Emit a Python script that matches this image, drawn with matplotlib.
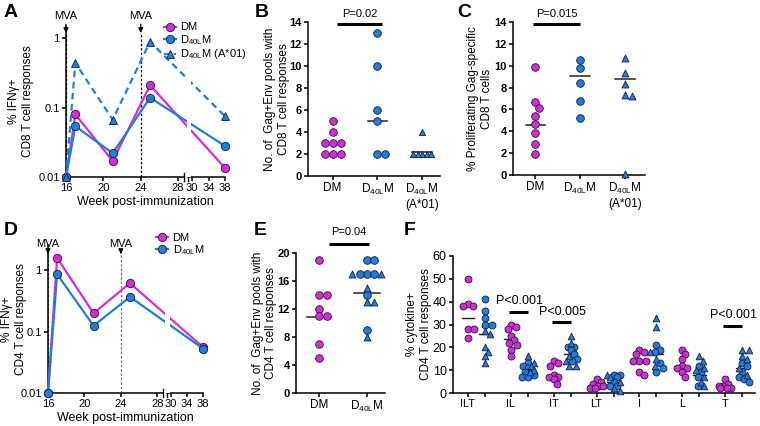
import numpy as np
import matplotlib.pyplot as plt
from matplotlib.lines import Line2D

plt.rcParams['font.family'] = ['Liberation Sans', 'DejaVu Sans']
plt.rcParams['font.size'] = 8
plt.rcParams['mathtext.default'] = 'regular'

MAG = '#d92bd4'
BLU = '#1f7fd6'
EDGE = '#1a1a40'
D40 = 'D$_{40L}$M'

# --- A / D : time courses (log scale) ---
weeks = [16, 17, 21, 25, 38]
cd8_dm = [0.01, 0.08, 0.017, 0.21, 0.0135]
cd8_d40 = [0.01, 0.054, 0.022, 0.139, 0.028]
cd8_a01 = [0.01, 0.44, 0.067, 0.89, 0.075]
cd4_dm = [0.01, 1.6, 0.2, 0.62, 0.056]
cd4_d40 = [0.01, 0.87, 0.125, 0.37, 0.053]
mva_weeks = [16, 24]
week_ticks = [16, 20, 24, 28, 30, 34, 38]

# --- B ---
b_dm = [5, 4, 3, 3, 3, 2, 2, 2]
b_d40 = [13, 10, 6, 5, 2, 2]
b_a01 = [4, 2, 2, 2, 2, 2]
b_med = [2.9, 5.0, 2.2]

# --- C ---
c_dm = [9.9, 6.7, 6.1, 5.4, 4.7, 3.8, 2.8, 1.9]
c_d40 = [10.5, 9.8, 8.4, 6.8, 5.2]
c_a01 = [10.7, 9.3, 8.3, 7.3, 7.2, 0.1]
c_med = [4.6, 9.1, 8.8]

# --- E ---
e_dm = [19, 14, 14, 12, 11, 11, 7, 5]
e_d40_circ = [19, 19, 17, 17, 17, 14, 9]
e_d40_tri = [17, 17, 15, 13, 13, 8]
e_med = [10.8, 14.3]

# --- F ---
f_labels = ['ILT', 'IL', 'IT', 'LT', 'I', 'L', 'T']
f_dm = [
    [50, 39, 38, 38, 28, 28, 24],
    [30, 29, 28, 25, 23, 22, 21, 19, 16],
    [14, 13, 12, 8, 7, 7, 6, 4],
    [6, 5, 4, 3, 3, 2, 2],
    [19, 18, 17, 14, 14, 14, 9, 8],
    [19, 17, 15, 12, 11, 11, 9, 7],
    [6, 4, 3, 3, 2, 2, 2],
]
f_d40_circ = [
    [41, 36, 33, 30, 30],
    [13, 12, 11, 9, 8, 7, 7],
    [20, 20, 19, 17, 15, 14],
    [8, 8, 7, 5, 3, 3],
    [21, 19, 18, 13, 11, 9],
    [12, 9, 7, 3],
    [13, 12, 9, 7, 6, 5],
]
f_d40_tri = [
    [27, 26, 20, 18, 16, 13],
    [16, 13, 12, 10, 9],
    [25, 22, 16, 14, 12, 12],
    [8, 7, 5, 2, 1],
    [33, 29, 18, 15, 12],
    [16, 14, 11, 10, 7, 5, 3],
    [19, 19, 16, 15, 11, 8],
]
f_dm_med = [33, 23.5, 8, 3.5, 13.5, 11, 3]
f_d40_med = [26, 11, 17, 5, 17, 8, 11]
f_pvals = [(1, 'P<0.001', 35.5), (2, 'P<0.005', 31), (6, 'P<0.001', 29.5)]


def rect(l, t, r, b):
    return [l / 760, 1 - b / 426, (r - l) / 760, (b - t) / 426]


def style(ax):
    for s in ['top', 'right']:
        ax.spines[s].set_visible(False)
    for s in ['left', 'bottom']:
        ax.spines[s].set_linewidth(1.1)
    ax.tick_params(direction='out', length=3, width=1.1, pad=1.5)


def swarm(vals, center, dx, dy, thr=0.9, maxoff=None):
    # greedy beeswarm, offsets in data units
    vals = np.asarray(vals, float)
    xs = np.zeros(len(vals))
    placed = []
    cands = [0.0]
    for k in range(1, 40):
        cands += [k * dx / 4, -k * dx / 4]
    if maxoff is not None:
        cands = [c for c in cands if abs(c) <= maxoff + 1e-9]
    for i in np.argsort(-vals, kind='stable'):
        best = None
        for off in cands:
            ok = all(((off - px) / dx) ** 2 + ((vals[i] - pv) / dy) ** 2 >= thr ** 2
                     for px, pv in placed)
            if ok:
                best = off
                break
        if best is None:
            # least crowded spot
            best = max(cands, key=lambda o: min(((o - px) / dx) ** 2 + ((vals[i] - pv) / dy) ** 2
                                                for px, pv in placed))
        placed.append((best, vals[i]))
        xs[i] = center + best
    return xs


def wk_fwd(x):
    x = np.asarray(x, float)
    return np.where(x <= 28, x - 16,
                    np.where(x >= 30, 13.5 + (x - 30) * 0.44, 12 + (x - 28) * 0.75))


def wk_inv(u):
    u = np.asarray(u, float)
    return np.where(u <= 12, u + 16,
                    np.where(u >= 13.5, 30 + (u - 13.5) / 0.44, 28 + (u - 12) / 0.75))


def week_panel(ax, series, ytop, tip, txt, mva_col, ylabel):
    ax.set_xscale('function', functions=(wk_fwd, wk_inv))
    ax.set_yscale('log')
    ax.set_xlim(16, 38)
    ax.set_ylim(0.01, ytop)
    for vals, col, mk, ls, ms in series:
        ax.plot(weeks, vals, color=col, ls=ls, lw=1.6, marker=mk, ms=ms,
                mfc=col, mec=EDGE, mew=0.6, zorder=3, clip_on=False)
    ax.axvspan(29.2, 29.85, color='white', lw=0, zorder=3.5)
    for w in mva_weeks:
        ax.plot([w, w], [0.01, tip], ls=(0, (2, 1.5)), color=mva_col, lw=0.9, zorder=2)
        ax.annotate('MVA', xy=(w, tip), xytext=(w, txt), ha='center', va='bottom',
                    fontsize=8, annotation_clip=False,
                    arrowprops=dict(arrowstyle='-|>', color='k', lw=0.9,
                                    mutation_scale=7, shrinkA=0, shrinkB=0))
    style(ax)
    ax.spines['bottom'].set_visible(False)
    xt = ax.get_xaxis_transform()
    ax.plot([16, 28.9], [0, 0], color='k', lw=1.1, transform=xt, clip_on=False)
    ax.plot([29.4, 38], [0, 0], color='k', lw=1.1, transform=xt, clip_on=False)
    for xb in [28.9, 29.4]:
        ax.plot([xb, xb], [-0.025, 0.025], color='k', lw=1.0, transform=xt, clip_on=False)
    ax.set_xticks(week_ticks)
    ax.set_xticklabels([str(w) for w in week_ticks])
    ax.minorticks_off()
    ax.set_yticks([0.01, 0.1, 1])
    ax.set_yticklabels(['0.01', '0.1', '1'])
    ax.set_xlabel('Week post-immunization', fontsize=9, labelpad=2)
    ax.set_ylabel(ylabel, fontsize=8.5)


fig = plt.figure(figsize=(7.6, 4.26), dpi=100)

# A
axA = fig.add_axes(rect(66, 26, 225, 177))
week_panel(axA, [(cd8_dm, MAG, 'o', '-', 6), (cd8_d40, BLU, 'o', '-', 6),
                 (cd8_a01, BLU, '^', (0, (3, 2)), 5.5)],
           1.5, 1.19, 1.75, 'k', '% IFN\u03b3+\nCD8 T cell responses')
axA.yaxis.set_label_coords(-0.2, 0.5)
hA = [Line2D([], [], color=MAG, marker='o', mfc=MAG, mec=EDGE, mew=0.6, ms=6, lw=1.6),
      Line2D([], [], color=BLU, marker='o', mfc=BLU, mec=EDGE, mew=0.6, ms=6, lw=1.6),
      Line2D([], [], color=BLU, marker='^', mfc=BLU, mec=EDGE, mew=0.6, ms=5.5, lw=1.4,
             ls=(0, (3, 2)))]
axA.legend(hA, ['DM', D40, D40 + ' (A*01)'], loc='upper left',
           bbox_to_anchor=(0.58, 1.06), frameon=False, fontsize=8, handlelength=1.1,
           handletextpad=0.4, labelspacing=0.05, borderpad=0, markerfirst=True)

# D
axD = fig.add_axes(rect(48, 245, 203, 393))
week_panel(axD, [(cd4_dm, MAG, 'o', '-', 6), (cd4_d40, BLU, 'o', '-', 6)],
           2.6, 1.85, 2.25, '#777777', '% IFN\u03b3+\nCD4 T cell responses')
axD.yaxis.set_label_coords(-0.135, 0.5)
axD.legend(hA[:2], ['DM', D40], loc='upper left', bbox_to_anchor=(0.66, 1.12),
           frameon=False, fontsize=8, handlelength=1.1, handletextpad=0.4,
           labelspacing=0.05, borderpad=0)


def median_line(ax, x, m, half, lw=1.1):
    ax.plot([x - half, x + half], [m, m], color='#222222', lw=lw, zorder=2)


def pbar(ax, x0, x1, y, txt, ty):
    ax.plot([x0, x1], [y, y], color='k', lw=2.2, clip_on=False, solid_capstyle='butt')
    ax.text((x0 + x1) / 2, ty, txt, ha='center', va='bottom', fontsize=8, clip_on=False)


def cat_axes(ax, ymax, step, labels):
    style(ax)
    ax.set_ylim(0, ymax)
    ax.set_yticks(np.arange(0, ymax + 0.1, step))
    for t in ax.get_yticklabels():
        t.set_fontweight('bold')
    ax.set_xticks(range(len(labels)))
    ax.set_xticklabels(labels, fontsize=8.5)


MS = 5.5
MT = 5.0

# B
axB = fig.add_axes(rect(308, 22, 440, 176))
for i, (vals, col, mk, ms, dx) in enumerate([(b_dm, MAG, 'o', MS, 0.18),
                                             (b_d40, BLU, 'o', MS, 0.18),
                                             (b_a01, BLU, '^', MT * 0.9, 0.1)]):
    xs = swarm(vals, i, dx, 0.7)
    axB.scatter(xs, vals, s=ms ** 2, marker=mk, c=col, edgecolors=EDGE, linewidths=0.6,
                zorder=3, clip_on=False)
    median_line(axB, i, b_med[i], 0.22)
cat_axes(axB, 14, 2, ['DM', D40, D40 + '\n(A*01)'])
axB.set_xlim(-0.55, 2.4)
pbar(axB, 0.1, 1.1, 13.8, 'P=0.02', 14.3)
axB.set_ylabel('No. of  Gag+Env pools with\nCD8 T cell responses', fontsize=8.5)
axB.yaxis.set_label_coords(-0.14, 0.5)

# C
axC = fig.add_axes(rect(513, 22, 645, 175))
for i, (vals, col, mk, ms) in enumerate([(c_dm, MAG, 'o', MS), (c_d40, BLU, 'o', MS),
                                         (c_a01, BLU, '^', MT)]):
    xs = swarm(vals, i, 0.17, 0.7)
    axC.scatter(xs, vals, s=ms ** 2, marker=mk, c=col, edgecolors=EDGE, linewidths=0.6,
                zorder=3, clip_on=False)
    median_line(axC, i, c_med[i], 0.22)
cat_axes(axC, 14, 2, ['DM', D40, D40 + '\n(A*01)'])
axC.set_xlim(-0.5, 2.45)
pbar(axC, -0.05, 1.0, 13.8, 'P=0.015', 14.3)
axC.set_ylabel('% Proliferating Gag-specific\nCD8 T cells', fontsize=8.5)
axC.yaxis.set_label_coords(-0.155, 0.5)

# E
axE = fig.add_axes(rect(296, 253, 385, 393))
xs = swarm(e_dm, 0, 0.16, 1.0)
axE.scatter(xs, e_dm, s=MS ** 2, c=MAG, edgecolors=EDGE, linewidths=0.6, zorder=3)
e_all = e_d40_circ + e_d40_tri
e_mk = ['o'] * len(e_d40_circ) + ['^'] * len(e_d40_tri)
xs = swarm(e_all, 1, 0.15, 1.0)
for x, v, m in zip(xs, e_all, e_mk):
    axE.scatter([x], [v], s=(MS if m == 'o' else MT) ** 2, marker=m, c=BLU,
                edgecolors=EDGE, linewidths=0.6, zorder=3)
median_line(axE, 0, e_med[0], 0.25)
median_line(axE, 1, e_med[1], 0.27)
cat_axes(axE, 20, 4, ['DM', D40])
axE.set_xlim(-0.48, 1.38)
pbar(axE, 0.2, 1.05, 21.3, 'P=0.04', 22.3)
axE.set_ylabel('No. of  Gag+Env pools with\nCD4 T cell responses', fontsize=8.5)
axE.yaxis.set_label_coords(-0.21, 0.5)

# F
axF = fig.add_axes(rect(453, 256, 755, 393))
for g in range(len(f_labels)):
    xs = swarm(f_dm[g], g - 0.2, 0.15, 2.8, thr=0.8, maxoff=0.15)
    axF.scatter(xs, f_dm[g], s=5.0 ** 2, c=MAG, edgecolors=EDGE, linewidths=0.6,
                zorder=3, clip_on=False)
    allv = f_d40_circ[g] + f_d40_tri[g]
    mks = ['o'] * len(f_d40_circ[g]) + ['^'] * len(f_d40_tri[g])
    xs = swarm(allv, g + 0.2, 0.15, 2.8, thr=0.8, maxoff=0.15)
    for x, v, m in zip(xs, allv, mks):
        axF.scatter([x], [v], s=(5.0 if m == 'o' else 4.8) ** 2, marker=m, c=BLU,
                    edgecolors=EDGE, linewidths=0.6, zorder=3, clip_on=False)
    median_line(axF, g - 0.2, f_dm_med[g], 0.15, 1.0)
    median_line(axF, g + 0.2, f_d40_med[g], 0.15, 1.0)
style(axF)
axF.set_ylim(0, 60)
axF.set_yticks(range(0, 61, 10))
axF.tick_params(axis='y', labelsize=9)
pos = []
labs = []
for g, lab in enumerate(f_labels):
    pos += [g - 0.2, g + 0.2]
    labs += [lab, '']
axF.set_xticks(pos)
axF.set_xticklabels(labs, fontsize=8)
axF.set_xlim(-0.55, 6.5)
for g, txt, y in f_pvals:
    axF.plot([g - 0.25, g + 0.2], [y, y], color='k', lw=2.2, solid_capstyle='butt')
    axF.text(g, y + 2, txt, ha='center', va='bottom', fontsize=9)
axF.set_ylabel('% cytokine+\nCD4 T cell responses', fontsize=8.5)
axF.yaxis.set_label_coords(-0.07, 0.5)

for lab, x, y in [('A', 4, 4), ('B', 255, 4), ('C', 457, 4),
                  ('D', 4, 222), ('E', 254, 222), ('F', 404, 222)]:
    fig.text(x / 760, 1 - y / 426, lab, fontsize=14, fontweight='bold', va='top')

fig.savefig('out.png', dpi=100)
